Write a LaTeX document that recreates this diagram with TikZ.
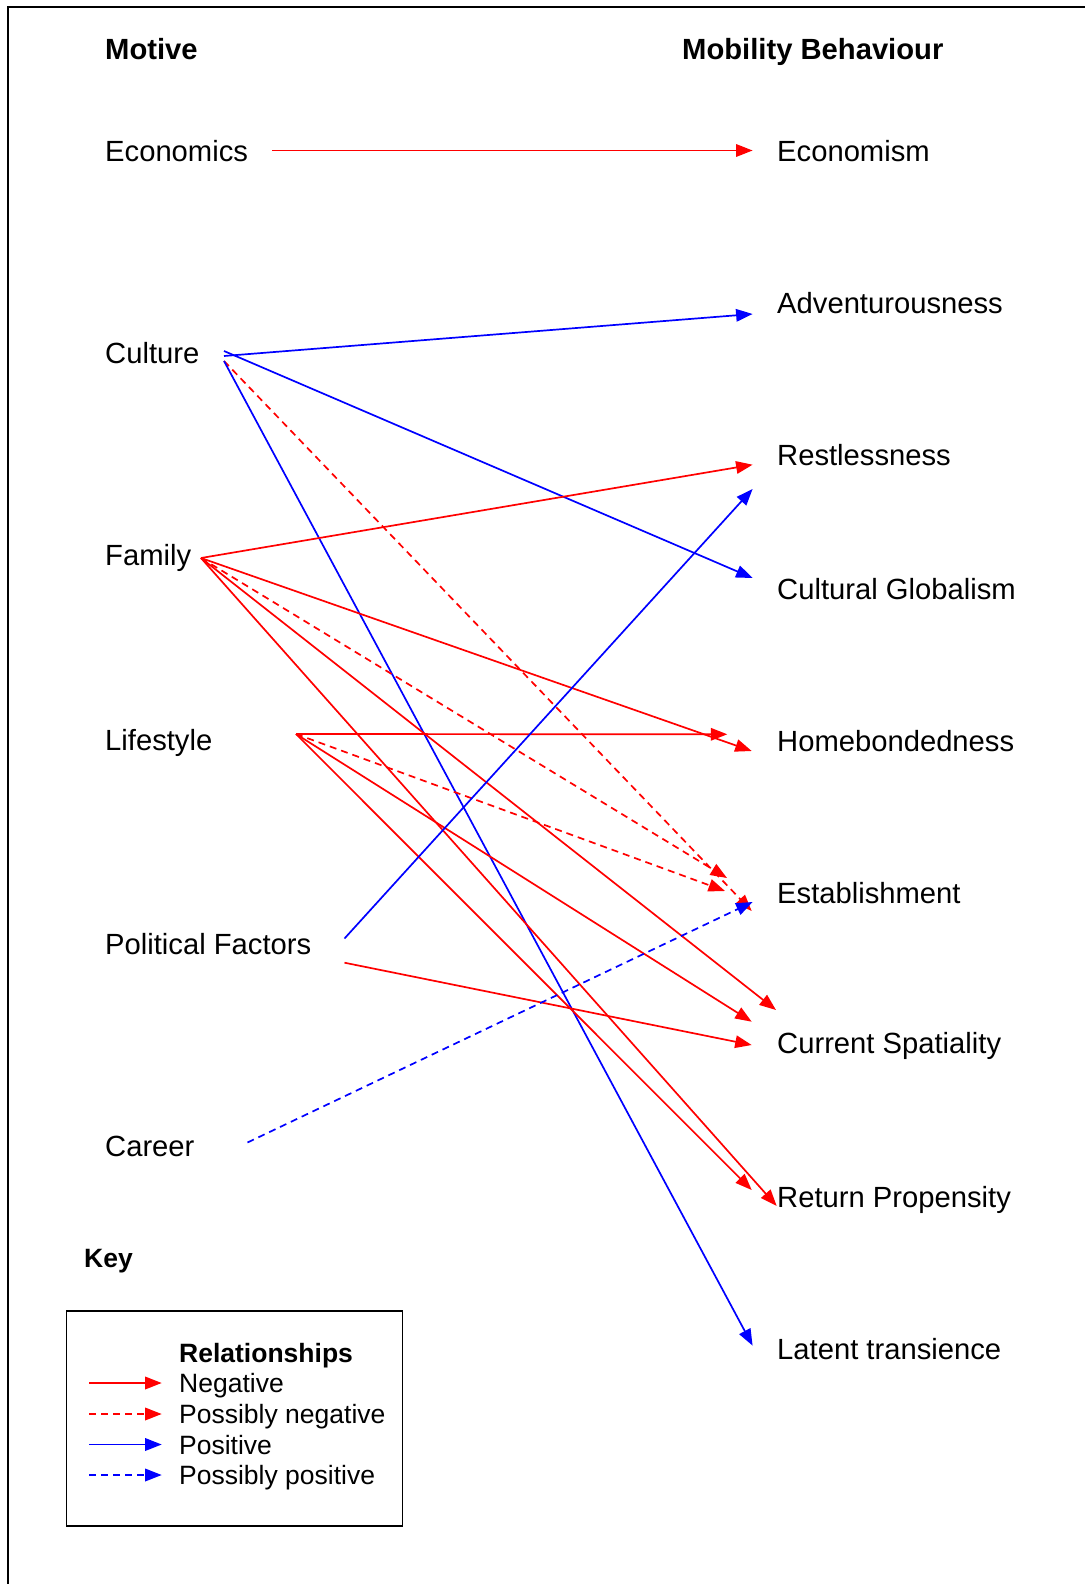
\documentclass[tikz,border=0pt]{standalone}
\usepackage{fontspec}
\setmainfont{Liberation Sans}
\usetikzlibrary{arrows.meta}
\begin{document}
\begin{tikzpicture}[x=1pt,y=-1pt,
  lbl/.style={anchor=base west, inner sep=0pt, font=\fontsize{29.2}{34}\selectfont},
  hdr/.style={anchor=base west, inner sep=0pt, font=\fontsize{29.2}{34}\selectfont\bfseries},
  keyt/.style={anchor=base west, inner sep=0pt, font=\fontsize{26.5}{31}\selectfont},
  keyh/.style={anchor=base west, inner sep=0pt, font=\fontsize{26.5}{31}\selectfont\bfseries},
  rel/.style={line width=1.7pt, -{Triangle[length=16.5pt,width=12.5pt]}},
  negrel/.style={rel, red},
  pnegrel/.style={rel, red, dash pattern=on 7pt off 5pt},
  posrel/.style={rel, blue},
  pposrel/.style={rel, blue, dash pattern=on 7pt off 5pt}]
\useasboundingbox (0,0) rectangle (1085,1584);
\draw[line width=1.5pt] (8,1584) -- (8,7) -- (1085,7);

% headers
\node[hdr] (hm) at (105,60) {Motive};
\node[hdr] (hb) at (682,60) {Mobility Behaviour};

% motives
\node[lbl] (econ) at (105,161) {Economics};
\node[lbl] (cult) at (105,363) {Culture};
\node[lbl] (fam) at (105,565) {Family};
\node[lbl] (life) at (105,750) {Lifestyle};
\node[lbl] (pol) at (105,954) {Political Factors};
\node[lbl] (car) at (105,1156) {Career};

% behaviours
\node[lbl] (ecm) at (777,161) {Economism};
\node[lbl] (adv) at (777,313) {Adventurousness};
\node[lbl] (res) at (777,465) {Restlessness};
\node[lbl] (cg) at (777,599) {Cultural Globalism};
\node[lbl] (hom) at (777,751) {Homebondedness};
\node[lbl] (est) at (777,903) {Establishment};
\node[lbl] (cs) at (777,1053) {Current Spatiality};
\node[lbl] (rp) at (777,1207) {Return Propensity};
\node[lbl] (lt) at (777,1359) {Latent transience};

% anchor coordinates
\coordinate (econS) at (272,150.5);
\coordinate (cultA) at (224,351);
\coordinate (cultB) at (224,356);
\coordinate (cultC) at (224,361);
\coordinate (famS) at (201,558);
\coordinate (lifeS) at (296,734);
\coordinate (polA) at (344.5,938.5);
\coordinate (polB) at (344.5,962.7);
\coordinate (carS) at (247.5,1142.5);

\coordinate (ecmE) at (752.6,150.5);
\coordinate (advE) at (752.6,314);
\coordinate (resE1) at (752.6,464.7);
\coordinate (resE2) at (752.6,489);
\coordinate (cgE) at (752.6,578);
\coordinate (homE1) at (751.7,751);
\coordinate (homE2) at (727.3,734.3);
\coordinate (estE1) at (727,878);
\coordinate (estE2) at (725,891);
\coordinate (estE3) at (751.7,911);
\coordinate (estE4) at (752.6,902);
\coordinate (csE1) at (776,1010);
\coordinate (csE2) at (751.7,1021.7);
\coordinate (csE3) at (751.7,1045);
\coordinate (rpE1) at (751.7,1190);
\coordinate (rpE2) at (776.7,1206);
\coordinate (ltE) at (752.6,1345.6);

% connectors
\draw[negrel] (econS) -- (ecmE);
\draw[posrel] (cultB) -- (advE);
\draw[posrel] (cultA) -- (cgE);
\draw[pnegrel] (cultC) -- (estE3);
\draw[posrel] (cultC) -- (ltE);
\draw[negrel] (famS) -- (resE1);
\draw[negrel] (famS) -- (homE1);
\draw[pnegrel] (famS) -- (estE1);
\draw[negrel] (famS) -- (csE1);
\draw[negrel] (famS) -- (rpE2);
\draw[negrel] (lifeS) -- (homE2);
\draw[pnegrel] (lifeS) -- (estE2);
\draw[negrel] (lifeS) -- (csE2);
\draw[negrel] (lifeS) -- (rpE1);
\draw[posrel] (polA) -- (resE2);
\draw[negrel] (polB) -- (csE3);
\draw[pposrel] (carS) -- (estE4);

% key
\node[keyh] (key) at (84,1267) {Key};
\draw[line width=1.3pt] (66.5,1311) rectangle (402.5,1526);
\node[keyh] (krel) at (179,1362) {Relationships};
\node[keyt] (kneg) at (179,1392) {Negative};
\node[keyt] (kpneg) at (179,1423) {Possibly negative};
\node[keyt] (kpos) at (179,1454) {Positive};
\node[keyt] (kppos) at (179,1484) {Possibly positive};
\coordinate (k1a) at (89,1383);
\coordinate (k2a) at (89,1414);
\coordinate (k3a) at (89,1444.5);
\coordinate (k4a) at (89,1475);
\coordinate (k1b) at (161.7,1383);
\coordinate (k2b) at (161.7,1414);
\coordinate (k3b) at (161.7,1444.5);
\coordinate (k4b) at (161.7,1475);
\draw[negrel] (k1a) -- (k1b);
\draw[pnegrel] (k2a) -- (k2b);
\draw[posrel] (k3a) -- (k3b);
\draw[pposrel] (k4a) -- (k4b);
\end{tikzpicture}
\end{document}
